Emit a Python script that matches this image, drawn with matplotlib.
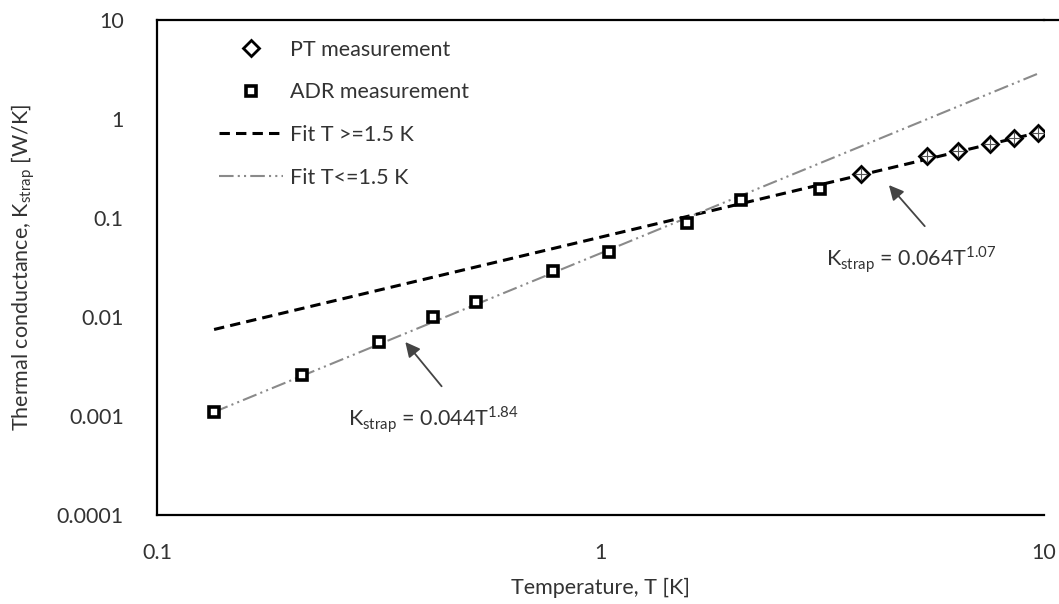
import matplotlib
matplotlib.use("Agg")
import matplotlib.pyplot as plt
from matplotlib.lines import Line2D
import numpy as np

# ---- data ----
adr_T = [0.1345, 0.212, 0.317, 0.42, 0.525, 0.783, 1.047, 1.57, 2.07, 3.12]
adr_K = [0.0011, 0.00259, 0.00559, 0.0100, 0.0142, 0.029, 0.0454, 0.089, 0.152, 0.196]
pt_T = [3.86, 5.44, 6.4, 7.55, 8.56, 9.69]
pt_K = [0.278, 0.423, 0.475, 0.559, 0.643, 0.722]

# fit coefficients shown on the chart: K = a * T^b
fit_high = (0.064, 1.07)   # T >= 1.5 K
fit_low = (0.044, 1.84)    # T <= 1.5 K
fit_T_range = [0.1345, 9.69]

x_ticks = [0.1, 1, 10]
x_tick_labels = ["0.1", "1", "10"]
y_ticks = [0.0001, 0.001, 0.01, 0.1, 1, 10]
y_tick_labels = ["0.0001", "0.001", "0.01", "0.1", "1", "10"]

plt.rcParams['font.family'] = ['Lato', 'DejaVu Sans']
plt.rcParams['mathtext.fontset'] = 'custom'
plt.rcParams['mathtext.rm'] = 'Lato'
TXT = '#333333'

W, H = 1059, 604
fig = plt.figure(figsize=(W / 100, H / 100), dpi=100)
L, R, B, T = 157, 1044, 515, 20
ax = fig.add_axes([L / W, (H - B) / H, (R - L) / W, (B - T) / H])
ax.set_xscale('log')
ax.set_yscale('log')
ax.set_xlim(0.1, 10)
ax.set_ylim(0.0001, 10)

fT = np.array(fit_T_range)
ax.plot(fT, fit_high[0] * fT ** fit_high[1], color='black', lw=2.2,
        linestyle=(0, (3.4, 2.0)), label='Fit T >=1.5 K', zorder=2)
ax.plot(fT, fit_low[0] * fT ** fit_low[1], color='#8a8a8a', lw=1.5,
        linestyle=(0, (7, 2, 1, 2, 1, 2)), label='Fit T<=1.5 K', zorder=2)

ax.plot(pt_T, pt_K, linestyle='none', marker='D', markersize=8.5,
        markerfacecolor='white', markeredgecolor='black', markeredgewidth=2.0,
        label='PT measurement', zorder=4)
ax.plot(pt_T, pt_K, linestyle='none', marker='+', markersize=9,
        markeredgecolor='#555555', markeredgewidth=0.8, zorder=5)
ax.plot(adr_T, adr_K, linestyle='none', marker='s', markersize=7.5,
        markerfacecolor='white', markeredgecolor='black', markeredgewidth=2.6,
        label='ADR measurement', zorder=4)

# axes styling
ax.spines['right'].set_visible(False)
for s in ['left', 'bottom', 'top']:
    ax.spines[s].set_color('black')
    ax.spines[s].set_linewidth(1.6)
fig.add_artist(Line2D([R / W, 1.0], [(H - T) / H] * 2, color='black', lw=1.6))

ax.set_xticks(x_ticks)
ax.set_xticklabels(x_tick_labels)
ax.set_yticks(y_ticks)
ax.set_yticklabels(y_tick_labels)
ax.minorticks_off()
ax.tick_params(axis='both', length=0, labelsize=15.5, colors=TXT)
ax.tick_params(axis='y', pad=24)
ax.tick_params(axis='x', pad=20)

ax.set_xlabel('Temperature, T [K]', fontsize=15.5, color=TXT, labelpad=11)
ax.set_ylabel('Thermal conductance, K$_{\\mathregular{strap}}$ [W/K]', fontsize=15.5,
              color=TXT, labelpad=14)

# annotations
ax.annotate('K$_{\\mathregular{strap}}$ = 0.064T$^{\\mathregular{1.07}}$',
            xy=(4.47, 0.215), xytext=(3.22, 0.0377), textcoords='data',
            fontsize=15.5, color=TXT, va='center', ha='left',
            arrowprops=dict(arrowstyle='-|>', color='#444444', lw=1.3,
                            mutation_scale=22, shrinkA=0, shrinkB=0,
                            relpos=(0.58, 1.6)))
ax.annotate('K$_{\\mathregular{strap}}$ = 0.044T$^{\\mathregular{1.84}}$',
            xy=(0.363, 0.00559), xytext=(0.269, 0.00091), textcoords='data',
            fontsize=15.5, color=TXT, va='center', ha='left',
            arrowprops=dict(arrowstyle='-|>', color='#444444', lw=1.3,
                            mutation_scale=22, shrinkA=0, shrinkB=0,
                            relpos=(0.55, 1.6)))

handles, labels = ax.get_legend_handles_labels()
order = [2, 3, 0, 1]
leg = ax.legend([handles[i] for i in order], [labels[i] for i in order],
                loc='upper left', bbox_to_anchor=(0.05, 0.995), frameon=False,
                fontsize=15.5, handlelength=3.0, handletextpad=0.3,
                labelspacing=1.05, borderaxespad=0.4)
for t in leg.get_texts():
    t.set_color(TXT)

fig.savefig('out.png', dpi=100, facecolor='white')
